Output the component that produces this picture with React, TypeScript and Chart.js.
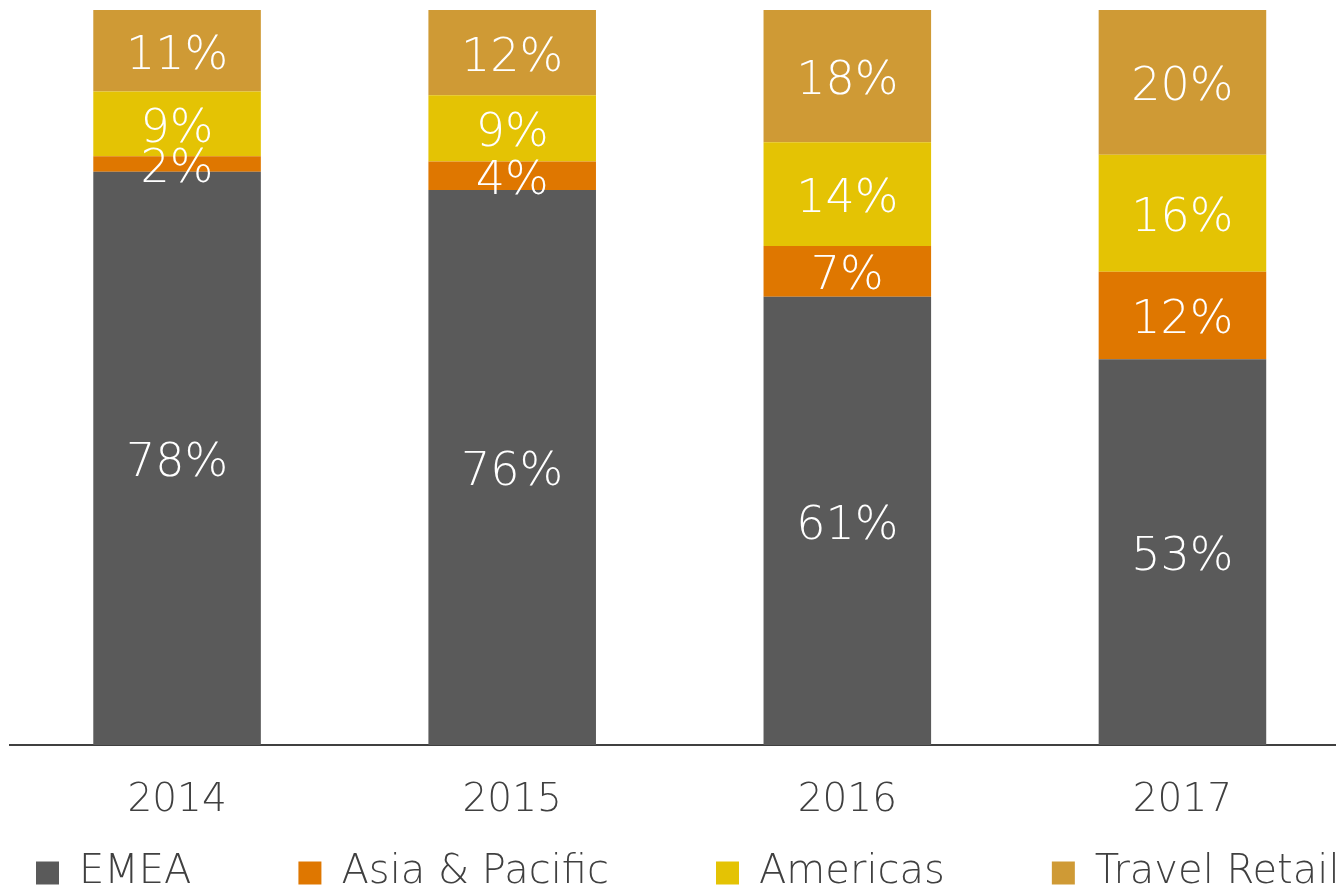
import React, { useEffect, useRef } from "react";
import { Chart, registerables } from "chart.js";

Chart.register(...registerables);

const years = ["2014", "2015", "2016", "2017"];
const emea = [78.0, 75.5, 61.0, 52.5];
const asiaPacific = [2.1, 3.9, 6.9, 11.9];
const americas = [8.8, 9.0, 14.1, 15.9];
const travelRetail = [11.1, 11.6, 18.0, 19.7];

const seriesNames = ["EMEA", "Asia & Pacific", "Americas", "Travel Retail"];
const seriesColors = ["#5a5a5a", "#df7700", "#e4c304", "#cf9a35"];

const FONT = "'DejaVu Sans', sans-serif";
const TEXT_COLOR = "#404040";

const segmentLabels = {
  id: "segmentLabels",
  afterDatasetsDraw(chart: any) {
    const ctx = chart.ctx;
    ctx.save();
    ctx.font = `200 46px ${FONT}`;
    ctx.fillStyle = "#ffffff";
    ctx.textAlign = "center";
    ctx.textBaseline = "middle";
    chart.data.datasets.forEach((ds: any, i: number) => {
      const meta = chart.getDatasetMeta(i);
      meta.data.forEach((bar: any, j: number) => {
        const { x, y, base } = bar.getProps(["x", "y", "base"], true);
        ctx.fillText(Math.round(ds.data[j]) + "%", x, (y + base) / 2 + 6);
      });
    });
    ctx.restore();
  },
};

export default function App() {
  const ref = useRef<HTMLCanvasElement | null>(null);

  useEffect(() => {
    if (!ref.current) return;
    const values = [emea, asiaPacific, americas, travelRetail];
    const chart = new Chart(ref.current, {
      type: "bar",
      data: {
        labels: years,
        datasets: values.map((v, i) => ({
          label: seriesNames[i],
          data: v,
          backgroundColor: seriesColors[i],
          borderWidth: 0,
          categoryPercentage: 1,
          barPercentage: 0.5,
        })),
      },
      options: {
        animation: false,
        responsive: false,
        layout: { padding: { top: 10, left: -71, right: 0, bottom: 0 } },
        plugins: {
          tooltip: { enabled: false },
          legend: {
            position: "bottom",
            align: "start",
            labels: {
              boxWidth: 23,
              boxHeight: 23,
              padding: 107,
              color: TEXT_COLOR,
              font: { family: FONT, size: 40, weight: "200" as any },
            },
          },
        },
        scales: {
          x: {
            stacked: true,
            grid: { display: false, drawTicks: false },
            border: { display: true, color: TEXT_COLOR, width: 2 },
            ticks: {
              color: TEXT_COLOR,
              mirror: true,
              padding: -79,
              font: { family: FONT, size: 39, weight: "200" as any, lineHeight: 1.2 },
            },
            afterFit: (s: any) => {
              s.height = 1;
            },
          },
          y: {
            stacked: true,
            position: "left",
            min: 0,
            max: 100,
            grid: { display: false },
            border: { display: false },
            ticks: { display: false },
            afterFit: (s: any) => {
              s.width = 80.5;
            },
          },
          yRight: {
            type: "linear",
            position: "right",
            grid: { display: false },
            border: { display: false },
            ticks: { display: false },
            afterFit: (s: any) => {
              s.width = 150;
            },
          },
        },
      },
      plugins: [segmentLabels],
    });
    return () => chart.destroy();
  }, []);

  return (
    <div
      style={{
        position: "absolute",
        left: 0,
        top: 0,
        width: 1336,
        height: 892,
        overflow: "hidden",
        background: "#ffffff",
      }}
    >
      <canvas
        ref={ref}
        width={1500}
        height={903}
        style={{ display: "block", width: 1500, height: 903 }}
      />
    </div>
  );
}
